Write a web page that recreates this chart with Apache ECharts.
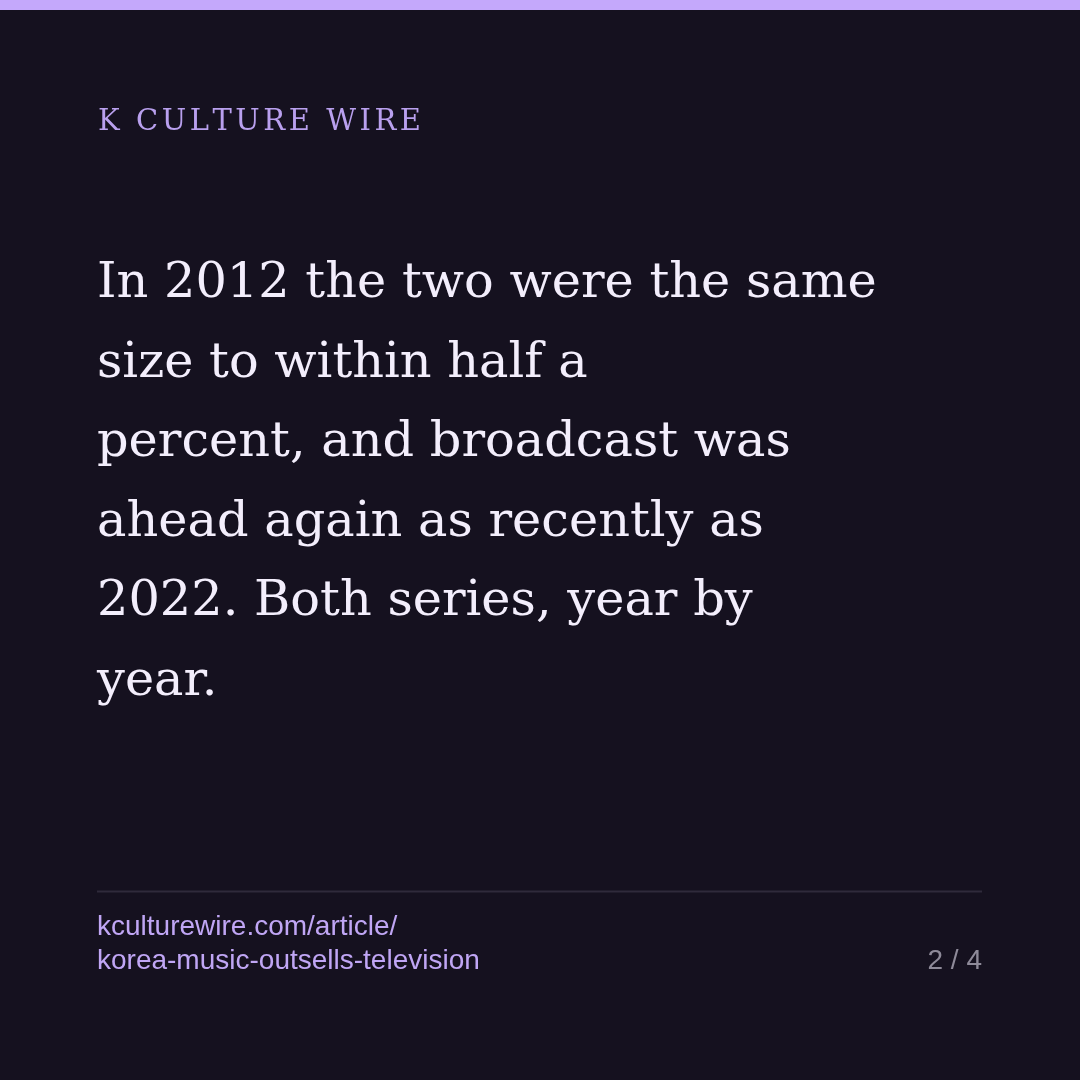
<!DOCTYPE html>
<html>
<head>
<meta charset="utf-8">
<script src="https://cdn.jsdelivr.net/npm/echarts@6/dist/echarts.min.js"></script>
<style>
  html, body { margin: 0; padding: 0; background: #15111f; }
  #main { width: 1080px; height: 1080px; }
</style>
</head>
<body>
<div id="main"></div>
<script>
// slide text
var brand = 'K CULTURE WIRE';
var headlineLines = [
  'In 2012 the two were the same',
  'size to within half a',
  'percent, and broadcast was',
  'ahead again as recently as',
  '2022. Both series, year by',
  'year.'
];
var sourceLines = ['kculturewire.com/article/', 'korea-music-outsells-television'];
var pageLabel = '2 / 4';

var SERIF = '"DejaVu Serif", Georgia, serif';
var SANS = '"Liberation Sans", Arial, sans-serif';

var ctx = document.createElement('canvas').getContext('2d');
function measure(text, size, family) {
  ctx.font = size + 'px ' + family;
  return ctx.measureText(text).width;
}

var chart = echarts.init(document.getElementById('main'), null, { renderer: 'canvas' });

var left = 97;
var graphics = [];

// top accent bar
graphics.push({
  type: 'rect',
  shape: { x: 0, y: 0, width: 1080, height: 10 },
  style: { fill: '#c4a8fb' }
});

// brand, letter spaced
var brandSize = 29;
var brandWidth = 323;
var raw = 0;
for (var i = 0; i < brand.length; i++) raw += measure(brand[i], brandSize, SERIF);
var spacing = (brandWidth - raw) / (brand.length - 1);
var bx = left + 1;
for (var i = 0; i < brand.length; i++) {
  graphics.push({
    type: 'text',
    x: bx, y: 132 - brandSize * 0.32,
    style: {
      text: brand[i], fill: '#b9a0ee',
      font: brandSize + 'px ' + SERIF,
      align: 'left', verticalAlign: 'middle'
    }
  });
  bx += measure(brand[i], brandSize, SERIF) + spacing;
}

// headline, sized to the first line width
var headSize = 56 * 780 / measure(headlineLines[0], 56, SERIF);
headlineLines.forEach(function (line, k) {
  var baseline = 300 + k * 79.6;
  graphics.push({
    type: 'text',
    x: left, y: baseline - headSize * 0.32,
    style: {
      text: line, fill: '#f3eefc',
      font: headSize + 'px ' + SERIF,
      align: 'left', verticalAlign: 'middle'
    }
  });
});

// divider
graphics.push({
  type: 'line',
  shape: { x1: left, y1: 891.5, x2: 982, y2: 891.5 },
  style: { stroke: '#2f2a3b', lineWidth: 2 }
});

// footer
var footSize = 28;
sourceLines.forEach(function (line, k) {
  graphics.push({
    type: 'text',
    x: left, y: 936 + k * 34 - footSize * 0.32,
    style: {
      text: line, fill: '#c0a6f5',
      font: footSize + 'px ' + SANS,
      align: 'left', verticalAlign: 'middle'
    }
  });
});
graphics.push({
  type: 'text',
  x: 982, y: 970 - footSize * 0.32,
  style: {
    text: pageLabel, fill: '#8e8a99',
    font: footSize + 'px ' + SANS,
    align: 'right', verticalAlign: 'middle'
  }
});

chart.setOption({
  backgroundColor: '#15111f',
  animation: false,
  graphic: graphics
});
</script>
</body>
</html>
